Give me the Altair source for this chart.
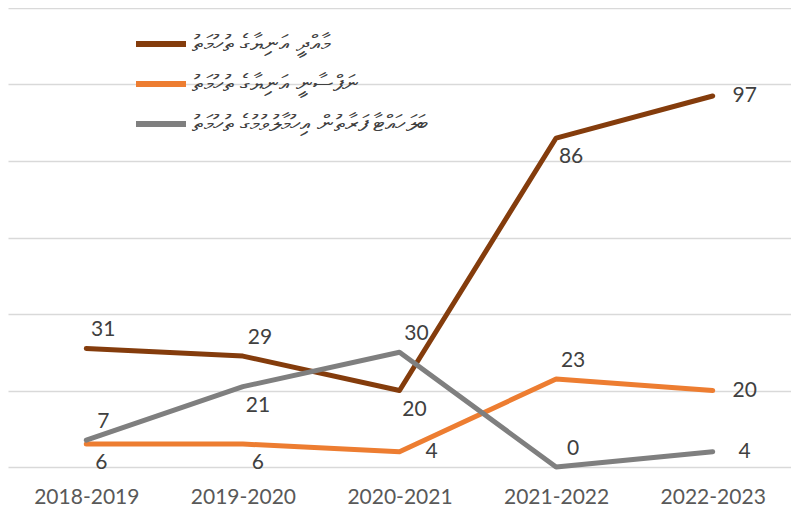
import altair as alt
import pandas as pd

years = ["2018-2019", "2019-2020", "2020-2021", "2021-2022", "2022-2023"]
series_names = [
    "މާއްދީ އަނިޔާގެ ތުހުމަތު",
    "ނަފްސާނީ އަނިޔާގެ ތުހުމަތު",
    "ބަލަހައްޓާ ފަރާތުން އިހުމާލުވުމުގެ ތުހުމަތު",
]
series1 = [31, 29, 20, 86, 97]
series2 = [6, 6, 4, 23, 20]
series3 = [7, 21, 30, 0, 4]
colors = ["#843C0C", "#ED7D31", "#7F7F7F"]

# data-label placement per point (like Excel's label position)
placements = [
    ["above", "above", "below", "below", "right"],
    ["below", "below", "right", "above", "right"],
    ["above", "below", "above", "above", "right"],
]

rows = []
for name, vals, pos in zip(series_names, [series1, series2, series3], placements):
    for y, v, p in zip(years, vals, pos):
        rows.append({"year": y, "value": v, "series": name, "pos": p})
df = pd.DataFrame(rows)

x_enc = alt.X(
    "year:N",
    sort=years,
    scale=alt.Scale(type="point", padding=0.5),
    axis=alt.Axis(
        title=None, domain=False, ticks=False, labelAngle=0,
        labelFont="Lato", labelFontSize=21, labelColor="#595959",
        labelPadding=19, grid=False,
    ),
)
y_enc = alt.Y(
    "value:Q",
    scale=alt.Scale(domain=[0, 120]),
    axis=alt.Axis(
        title=None, values=[0, 20, 40, 60, 80, 100, 120], labels=False,
        ticks=False, domain=False, gridColor="#D9D9D9", gridWidth=1.3,
    ),
)

base = alt.Chart(df).encode(x=x_enc, y=y_enc)

lines = base.mark_line(strokeWidth=5, strokeCap="round", strokeJoin="round").encode(
    color=alt.Color(
        "series:N",
        sort=series_names,
        scale=alt.Scale(domain=series_names, range=colors),
        legend=alt.Legend(
            orient="none", legendX=125, legendY=8, title=None,
            symbolType="stroke", symbolSize=2500, symbolStrokeWidth=6,
            labelFontSize=23, labelColor="#404040", labelOffset=3,
            rowPadding=-11, labelLimit=450,
        ),
    ),
    detail="series:N",
)

offsets = {"above": (17, -18), "below": (15, 19), "right": (32, 0)}
texts = []
for p, (dx, dy) in offsets.items():
    texts.append(
        base.transform_filter(alt.datum.pos == p)
        .mark_text(dx=dx, dy=dy, font="Lato", fontSize=21, color="#404040")
        .encode(text="value:Q")
    )

chart = alt.layer(lines, *texts).properties(
    width=783, height=459, padding=0
).configure_view(stroke=None)

chart.save("out.html", embed_options={"renderer": "svg", "actions": False})
